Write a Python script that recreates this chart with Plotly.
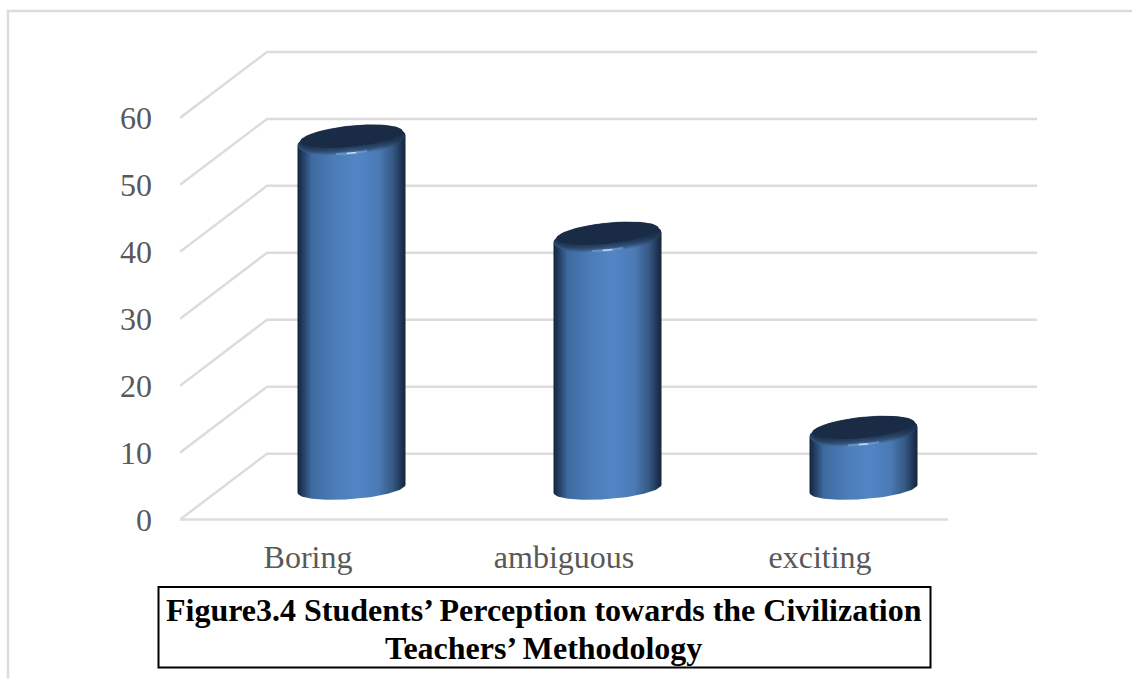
import numpy as np
import plotly.graph_objects as go

# Survey results
categories = ["Boring", "ambiguous", "exciting"]
percentages = [52, 37.5, 8.5]
y_ticks = [0, 10, 20, 30, 40, 50, 60]
caption_lines = ["Figure3.4 Students’ Perception towards the Civilization", "Teachers’ Methodology"]

WIDTH, HEIGHT = 1132, 679
LEFT, FRONT_RIGHT, FLOOR = 180, 948, 520
BACK_RIGHT = 1037
UNIT_Y = 6.7                              # pixels per percentage point
UNIT_X = (FRONT_RIGHT - LEFT) / 3         # pixels per category
DEPTH_X = 87 / UNIT_X                     # oblique offset of the back wall
DEPTH_Y = 66 / UNIT_Y
X_MAX = -0.5 + (BACK_RIGHT - LEFT) / UNIT_X
Y_MIN = -2                                # room under the floor so its line is not clipped
PLOT_BOTTOM = FLOOR - Y_MIN * UNIT_Y

GRID = "#dcdcdc"
TEXT = "#595959"
CAP = "#1a2c45"
SIDE_SHADE = [[0, "#14243a"], [0.04, "#20395a"], [0.13, "#3d6aa0"], [0.35, "#4c7db8"],
              [0.55, "#5385c6"], [0.75, "#4c7ab4"], [0.88, "#365a86"], [0.96, "#1f3553"], [1, "#14243a"]]
RIM_SHADE = [[0, "#2f5078"], [0.3, "#4a78ab"], [0.5, "#5a8dc8"], [0.75, "#44709f"], [1, "#1f3552"]]


def px_x(px):
    return (px - LEFT) / (BACK_RIGHT - LEFT)


def px_y(px):
    return (PLOT_BOTTOM - px) / PLOT_BOTTOM


traces = []

# Oblique floor, wall and side gridlines
for tick in y_ticks:
    traces.append(go.Scatter(x=[-0.5, -0.5 + DEPTH_X, X_MAX],
                             y=[tick, tick + DEPTH_Y, tick + DEPTH_Y],
                             mode="lines", line=dict(color=GRID, width=2.5),
                             cliponaxis=False, hoverinfo="skip", showlegend=False))
traces.append(go.Scatter(x=[-0.5, 2.5], y=[0, 0], mode="lines", line=dict(color=GRID, width=2.5),
                         cliponaxis=False, hoverinfo="skip", showlegend=False))


def ring(cx, cy, rx, ry, tilt, start=0.0, stop=2 * np.pi, n=80):
    """Tilted ellipse in data units; rx/ry/tilt are in pixels."""
    t = np.linspace(start, stop, n)
    return (cx + rx * np.cos(t) / UNIT_X,
            cy + (ry * np.sin(t) + tilt * np.cos(t)) / UNIT_Y)


def filled(xs, ys, **style):
    return go.Scatter(x=xs, y=ys, mode="lines", fill="toself", line=dict(width=0),
                      cliponaxis=False, hoverinfo="skip", showlegend=False, **style)


# Each cylinder: shaded wall, bevelled rim fading into a dark cap, small highlight
HALF = 54
BASE = 31 / UNIT_Y
for i, value in enumerate(percentages):
    cx = i + 43.5 / UNIT_X
    top = value + BASE
    x_low, y_low = ring(cx, BASE, HALF, 10.5, 4, np.pi, 2 * np.pi)
    x_up, y_up = ring(cx, top, HALF, 14.5, 5, 0, np.pi)
    traces.append(filled(np.r_[x_low, x_up], np.r_[y_low, y_up],
                         fillgradient=dict(type="horizontal", colorscale=SIDE_SHADE)))
    x_rim, y_rim = ring(cx, top, HALF - 0.5, 14.5, 5)
    traces.append(filled(x_rim, y_rim, fillgradient=dict(type="horizontal", colorscale=RIM_SHADE)))
    for step in range(5):
        lift = 0.8 * step + 0.6
        x_s, y_s = ring(cx, top + lift / UNIT_Y, HALF - 1 - 0.35 * step, 13.8 - 0.6 * step, 5)
        traces.append(filled(x_s, y_s, fillcolor="rgba(26,44,69,0.26)"))
    x_cap, y_cap = ring(cx, top + 4.2 / UNIT_Y, HALF - 3, 10.5, 5)
    traces.append(filled(x_cap, y_cap, fillcolor=CAP))
    x_hi, y_hi = ring(cx, top, HALF - 1, 12.5, 5, -np.pi / 2 - 0.3, -np.pi / 2 + 0.3, 16)
    traces.append(go.Scatter(x=x_hi, y=y_hi, mode="lines", line=dict(color="rgba(130,175,225,0.55)", width=2),
                             cliponaxis=False, hoverinfo="skip", showlegend=False))
    x_hi, y_hi = ring(cx, top, HALF - 1, 12.5, 5, -np.pi / 2 - 0.09, -np.pi / 2 + 0.09, 8)
    traces.append(go.Scatter(x=x_hi, y=y_hi, mode="lines", line=dict(color="#c4dcf4", width=1.5),
                             cliponaxis=False, hoverinfo="skip", showlegend=False))

fig = go.Figure(traces)

fig.update_layout(
    width=WIDTH, height=HEIGHT,
    margin=dict(l=LEFT, r=WIDTH - BACK_RIGHT, t=0, b=HEIGHT - PLOT_BOTTOM, pad=0),
    paper_bgcolor="white", plot_bgcolor="rgba(0,0,0,0)",
    showlegend=False,
    font=dict(family="Liberation Serif", size=32, color=TEXT),
    # Chart frame and caption box
    shapes=[
        dict(type="path", xref="paper", yref="paper", layer="below",
             path=f"M {px_x(8)} {px_y(HEIGHT)} L {px_x(8)} {px_y(11)} L {px_x(WIDTH)} {px_y(11)}",
             line=dict(color=GRID, width=2.5)),
        dict(type="rect", xref="paper", yref="paper",
             x0=px_x(158.5), x1=px_x(930.5), y0=px_y(668), y1=px_y(587.5),
             line=dict(color="black", width=2), fillcolor="white"),
    ],
    annotations=[
        dict(text=f"<b>{line}</b>", xref="paper", yref="paper", showarrow=False,
             x=px_x(543.5), y=px_y(cy), xanchor="center", yanchor="middle",
             font=dict(family="Liberation Serif", size=32, color="black"))
        for line, cy in zip(caption_lines, [610, 648])
    ],
)
fig.update_xaxes(range=[-0.5, X_MAX], tickmode="array", tickvals=[0, 1, 2], ticktext=categories,
                 showgrid=False, zeroline=False, showline=False, ticks="", ticklabelstandoff=2,
                 fixedrange=True)
fig.update_yaxes(range=[Y_MIN, FLOOR / UNIT_Y], tickmode="array", tickvals=y_ticks,
                 showgrid=False, zeroline=False, showline=False, ticks="", ticklabelstandoff=27,
                 fixedrange=True)

fig.write_html("out.html", config=dict(displayModeBar=False))
